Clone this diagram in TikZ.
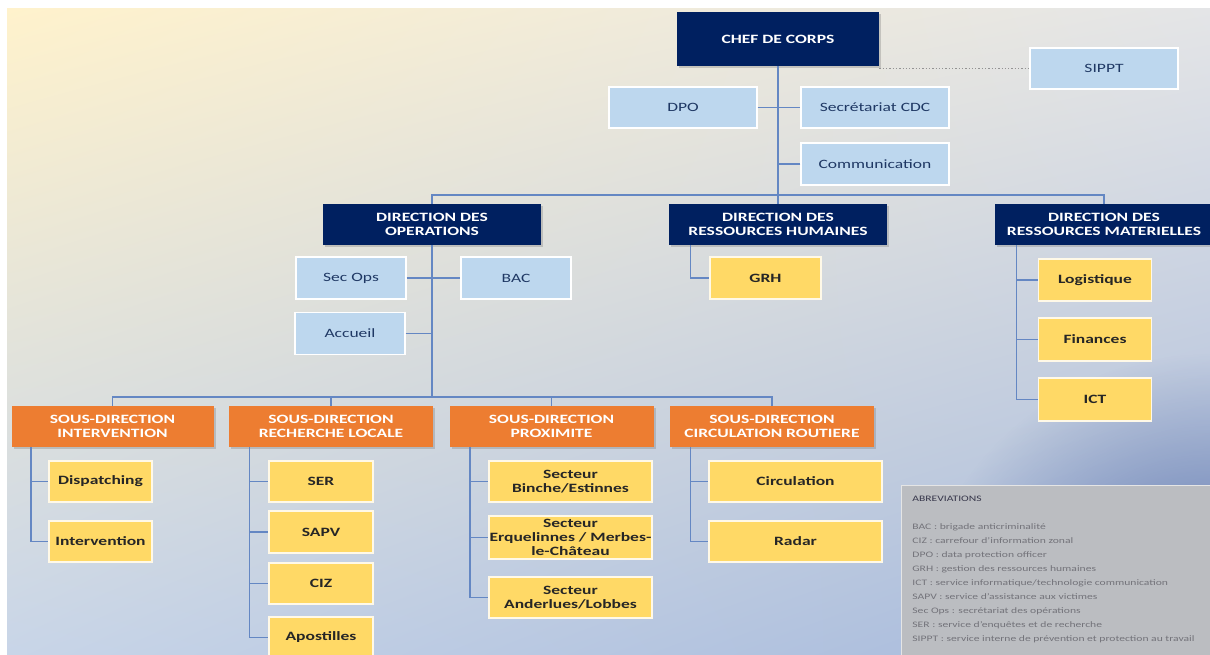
\documentclass[tikz,border=0pt]{standalone}
\usepackage{fontspec}
\setmainfont{Carlito}[FakeStretch=1.38]
\usetikzlibrary{shadows,shadings,fadings}

\definecolor{navy}{RGB}{0,32,96}
\definecolor{paleblue}{RGB}{189,215,238}
\definecolor{inkblue}{RGB}{31,56,100}
\definecolor{tangerine}{RGB}{237,125,49}
\definecolor{butter}{RGB}{255,217,102}
\definecolor{linkblue}{RGB}{100,135,195}
\definecolor{bgcream}{RGB}{255,242,204}
\definecolor{bggray}{RGB}{228,229,231}
\definecolor{bgsky}{RGB}{200,213,232}
\definecolor{bgsteel}{RGB}{165,184,218}
\definecolor{cornerblue}{RGB}{80,105,165}
\definecolor{notefill}{RGB}{187,189,193}
\definecolor{noteink}{RGB}{115,115,122}
\definecolor{notehead}{RGB}{55,55,75}
\tikzfading[name = cornerglow, inner color = transparent!0, outer color = transparent!100]

\begin{document}
\begin{tikzpicture}
	[x = 0.5pt, y = -0.5pt,
	box/.style={rectangle, inner sep = 0pt, minimum height = 20.5pt, align = center},
	head/.style={box, fill = navy, text = white, font = \fontsize{6.35}{7}\selectfont\bfseries,
		drop shadow = {shadow xshift = 1.2pt, shadow yshift = -1.2pt, opacity = .35}},
	subdir/.style={head, fill = tangerine},
	staff/.style={box, fill = paleblue, text = inkblue, draw = white, line width = .7pt,
		font = \fontsize{6.35}{7}\selectfont},
	unit/.style={box, fill = butter, text = black!85, draw = white!85!butter, line width = .7pt,
		font = \fontsize{6.35}{7}\selectfont\bfseries},
	link/.style = {draw = linkblue, line width = .7pt},
	dotlink/.style = {draw = gray!85, densely dotted, line width = .65pt},
	notebox/.style = {fill = notefill, draw = white!80!gray, line width = .5pt, inner sep = 0pt},
	notetext/.style = {text = noteink, align = left, inner sep = 0pt, font = \fontsize{4.2}{7}\selectfont}]
	\useasboundingbox (0,0) rectangle (1210,654);
	\fill [white] (0,0) rectangle (1210,654);
	\shade [upper left = bgcream, upper right = bggray, lower left = bgsky, lower right = bgsteel] (7,8) rectangle (1210,654);
	\begin{scope}
		\clip (7,8) rectangle (1210,654);
		\fill [cornerblue, path fading = cornerglow] (1210,654) circle (150pt);
	\end{scope}
	\coordinate (bus) at (0,195);
	\coordinate (subbus) at (0,397);

	\node [head, minimum width = 101pt, minimum height = 27pt] (chef) at (778,39) {CHEF DE CORPS};
	\node [staff, minimum width = 74pt] (sippt) at (1104,68.5) {SIPPT};
	\node [staff, minimum width = 74pt] (dpo) at (683,107.5) {DPO};
	\node [staff, minimum width = 74pt] (cdc) at (875,107.5) {Secrétariat CDC};
	\node [staff, minimum width = 74pt, minimum height = 21pt] (comm) at (875,164) {Communication};

	\node [head, minimum width = 109pt] (ops) at (432,224.5) {DIRECTION DES\\OPERATIONS};
	\node [head, minimum width = 109pt] (drh) at (778,224.5) {DIRECTION DES\\RESSOURCES HUMAINES};
	\node [head, minimum width = 109pt] (drm) at (1104,224.5) {DIRECTION DES\\RESSOURCES MATERIELLES};

	\node [staff, minimum width = 55pt, minimum height = 21pt] (secops) at (351,278) {Sec Ops};
	\node [staff, minimum width = 55pt, minimum height = 21pt] (bac) at (516,278) {BAC};
	\node [staff, minimum width = 55pt, minimum height = 21pt] (accueil) at (350,333.5) {Accueil};

	\node [unit, minimum width = 55.5pt, minimum height = 21pt] (grh) at (765.5,278) {GRH};
	\node [unit, minimum width = 56.5pt, minimum height = 21pt] (logi) at (1095,280) {Logistique};
	\node [unit, minimum width = 56.5pt, minimum height = 21.5pt] (fin) at (1095,339.5) {Finances};
	\node [unit, minimum width = 56.5pt, minimum height = 21.5pt] (ict) at (1095,399.5) {ICT};

	\node [subdir, minimum width = 101pt] (sdint) at (112.5,426.5) {SOUS-DIRECTION\\INTERVENTION};
	\node [subdir, minimum width = 102pt] (sdrech) at (331,426.5) {SOUS-DIRECTION\\RECHERCHE LOCALE};
	\node [subdir, minimum width = 102pt] (sdprox) at (551.5,426.5) {SOUS-DIRECTION\\PROXIMITE};
	\node [subdir, minimum width = 102pt] (sdcirc) at (772,426.5) {SOUS-DIRECTION\\CIRCULATION ROUTIERE};

	\node [unit, minimum width = 51.5pt] (disp) at (100.5,481.5) {Dispatching};
	\node [unit, minimum width = 51.5pt] (interv) at (100.5,541.5) {Intervention};
	\node [unit, minimum width = 52pt] (ser) at (321,481.5) {SER};
	\node [unit, minimum width = 52pt, minimum height = 21pt] (sapv) at (321,532) {SAPV};
	\node [unit, minimum width = 52pt] (ciz) at (321,583.5) {CIZ};
	\node [unit, minimum width = 52pt] (apost) at (321,637.5) {Apostilles};
	\node [unit, minimum width = 81.5pt] (binche) at (570.5,481.5) {Secteur\\Binche/Estinnes};
	\node [unit, minimum width = 81.5pt, minimum height = 21.5pt] (erq) at (570.5,537.5) {Secteur\\Erquelinnes / Merbes-\\le-Château};
	\node [unit, minimum width = 81.5pt] (anderl) at (570.5,597.5) {Secteur\\Anderlues/Lobbes};
	\node [unit, minimum width = 86.5pt] (circul) at (795.5,481.5) {Circulation};
	\node [unit, minimum width = 86.5pt] (radar) at (795.5,541.5) {Radar};

	\draw [link] (chef.south) -- (drh.north);
	\draw [link] (ops.north) -- (ops.north |- bus) -- (drm.north |- bus) -- (drm.north);
	\draw [link] (dpo.east) -- (cdc.west);
	\draw [link] (comm.west) -- (comm.west -| chef.south);
	\draw [dotlink] (chef.south east |- sippt.west) -- (sippt.west);

	\draw [link] (ops.south) -- (ops.south |- subbus);
	\draw [link] (secops.east) -- (bac.west);
	\draw [link] (accueil.east) -- (accueil.east -| ops.south);
	\draw [link] (sdint.north) -- (sdint.north |- subbus) -- (sdcirc.north |- subbus) -- (sdcirc.north);
	\draw [link] (sdrech.north) -- (sdrech.north |- subbus);
	\draw [link] (sdprox.north) -- (sdprox.north |- subbus);

	\draw [link] ([xshift = 11pt]drh.south west) |- (grh.west);
	\foreach \kid in {logi,fin,ict}
		\draw [link] ([xshift = 11pt]drm.south west) |- (\kid.west);
	\foreach \kid in {disp,interv}
		\draw [link] ([xshift = 10pt]sdint.south west) |- (\kid.west);
	\foreach \kid in {ser,sapv,ciz,apost}
		\draw [link] ([xshift = 10.5pt]sdrech.south west) |- (\kid.west);
	\foreach \kid in {binche,erq,anderl}
		\draw [link] ([xshift = 10.5pt]sdprox.south west) |- (\kid.west);
	\foreach \kid in {circul,radar}
		\draw [link] ([xshift = 10.5pt]sdcirc.south west) |- (\kid.west);

	\node [notebox, anchor = north west, minimum width = 155pt, minimum height = 85pt] (notes) at (901,485) {};
	\node [notetext, anchor = north west] (abbrev) at ([xshift = 5.5pt, yshift = -5.5pt]notes.north west)
		{\textcolor{notehead}{ABREVIATIONS}\\[7pt]
		BAC : brigade anticriminalité\\
		CIZ : carrefour d’information zonal\\
		DPO : data protection officer\\
		GRH : gestion des ressources humaines\\
		ICT : service informatique/technologie communication\\
		SAPV : service d’assistance aux victimes\\
		Sec Ops : secrétariat des opérations\\
		SER : service d’enquêtes et de recherche\\
		SIPPT : service interne de prévention et protection au travail};
\end{tikzpicture}
\end{document}
